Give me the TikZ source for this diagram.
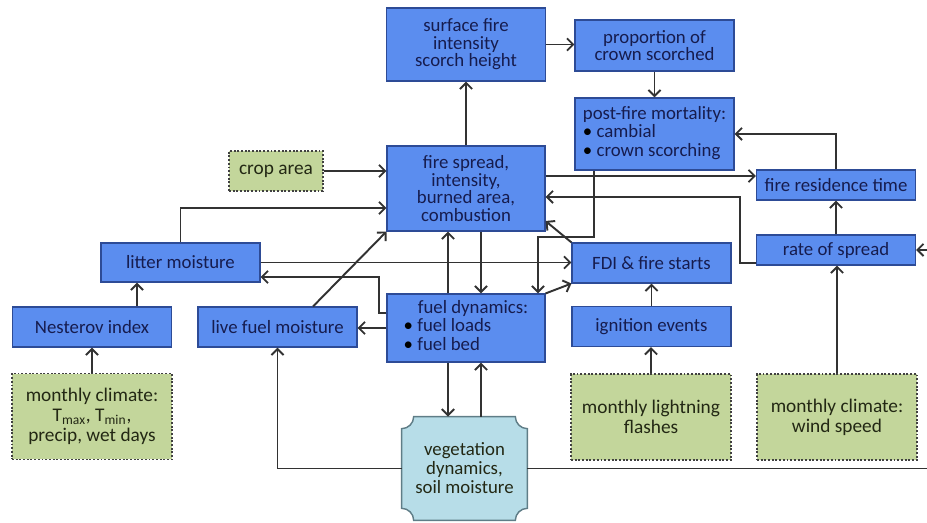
\documentclass[tikz,border=0pt]{standalone}
\usepackage{fontspec}
\setmainfont{Carlito}
\usetikzlibrary{arrows.meta,calc,backgrounds}
\definecolor{boxblue}{RGB}{91,141,239}
\definecolor{blueline}{RGB}{45,75,150}
\definecolor{navytext}{RGB}{22,28,78}
\definecolor{drivergreen}{RGB}{195,214,155}
\definecolor{drivertext}{RGB}{35,40,20}
\definecolor{vegcyan}{RGB}{183,221,232}
\definecolor{vegline}{RGB}{95,125,135}
\definecolor{linkgray}{RGB}{50,50,50}

\begin{document}
\begin{tikzpicture}[x=0.02cm, y=0.02cm, >={Straight Barb[length=3.5pt,width=7pt]}, link/.style={->, line width=1.1pt, draw=linkgray}, plain/.style={line width=1.1pt, draw=linkgray}, proc/.style={draw=blueline, line width=0.6pt, fill=boxblue, text=navytext, align=center, minimum width=3.18cm, minimum height=0.8cm, inner sep=2pt, font=\fontsize{10.7}{10}\selectfont}, driver/.style={draw=black!75, densely dotted, line width=1.1pt, fill=drivergreen, text=drivertext, align=center, minimum width=3.2cm, minimum height=1.72cm, inner sep=2pt, font=\fontsize{11}{11.5}\selectfont}, pool/.style={text=drivertext, align=center, minimum width=2.5cm, minimum height=2.06cm, inner sep=2pt, font=\fontsize{10.7}{10.8}\selectfont}]
\useasboundingbox (0,0) rectangle (927,-523);
% fire behaviour boxes
\node[proc, minimum height=1.46cm] (surf) at (466,-44.5) {surface fire\\intensity\\scorch height};
\node[proc, minimum height=1.02cm] (prop) at (654.5,-45.5) {proportion of\\crown scorched};
\node[proc, minimum height=1.44cm] (mort) at (654.5,-134) {\begin{tabular}{@{}l@{}}post-fire mortality:\\{\color{black}\textbullet}\ cambial\\{\color{black}\textbullet}\ crown scorching\end{tabular}};
\node[proc, minimum width=3.16cm, minimum height=1.7cm] (fire) at (466,-188.5) {fire spread,\\intensity,\\burned area,\\combustion};
\node[proc, minimum height=0.6cm] (res) at (836,-185) {fire residence time};
\node[proc, minimum height=0.6cm] (ros) at (836,-250) {rate of spread};
\node[proc] (fdi) at (651.5,-263) {FDI \& fire starts};
\node[proc] (ign) at (651.5,-326.5) {ignition events};
% moisture and fuel boxes
\node[proc, minimum height=0.78cm] (litter) at (180.5,-262.5) {litter moisture};
\node[proc] (nest) at (92,-327) {Nesterov index};
\node[proc] (live) at (277.5,-327) {live fuel moisture};
\node[proc, minimum width=3.16cm, minimum height=1.36cm] (fuel) at (466,-328) {\begin{tabular}{@{}l@{}}\hspace*{0.75em}fuel dynamics:\\{\color{black}\textbullet}\ fuel loads\\{\color{black}\textbullet}\ fuel bed\end{tabular}};
% drivers
\node[driver, minimum width=1.88cm, minimum height=0.8cm] (crop) at (276,-171) {crop area};
\node[driver] (climl) at (92,-416.5) {monthly climate:\\T\textsubscript{max}, T\textsubscript{min},\\precip, wet days};
\node[driver] (light) at (651,-417) {monthly lightning\\flashes};
\node[driver] (wind) at (837,-417) {monthly climate:\\wind speed};
\node[pool] (veg) at (464.5,-468.5) {vegetation\\dynamics,\\soil moisture};
\begin{scope}[on background layer]
\draw[draw=vegline, line width=0.8pt, fill=vegcyan] ($(veg.north west)+(12,0)$) -- ($(veg.north east)+(-12,0)$) arc[start angle=180, end angle=270, radius=12] -- ($(veg.south east)+(0,12)$) arc[start angle=90, end angle=180, radius=12] -- ($(veg.south west)+(12,0)$) arc[start angle=0, end angle=90, radius=12] -- ($(veg.north west)+(0,-12)$) arc[start angle=270, end angle=360, radius=12] -- cycle;
\end{scope}
\coordinate (edgeR) at (927,-250);
\coordinate (edgeB) at (927,-470);
% connectors
\draw[link] (fire) -- (surf);
\draw[link] (surf.east) -- (surf.east -| prop.west);
\draw[link] (prop) -- (mort);
\draw[link] (res.north) |- (mort.east);
\draw[link] (fire.east |- 0,-176) -- (res.west |- 0,-176);
\draw[link] (ros.west |- 0,-263) -| (740,-197) -- (fire.east |- 0,-197);
\draw[link] (edgeR) -- (ros.east);
\draw[link] (wind.north) -- (wind.north |- ros.south);
\draw[link] (ros) -- (res);
\draw[link] (ign) -- (fdi);
\draw[link] (light.north) -- (light.north |- ign.south);
\draw[link] (crop.east) -- (crop.east -| fire.west);
\draw[link] (litter.north) |- (fire.west |- 0,-208);
\draw[link] (nest.north -| 137,0) -- (litter.south -| 137,0);
\draw[link] (climl) -- (nest);
\draw[link] (litter.east) -- (litter.east -| fdi.west);
\draw[link] (fuel.west |- 0,-313) -| (379,-277) -- (litter.east |- 0,-277);
\draw[link] (fuel.west) -- (fuel.west -| live.east);
\draw[link] (live.north -| 313,0) -- (fire.south west);
\draw[link] (fuel.north -| 448,0) -- (fire.south -| 448,0);
\draw[link] (fire.south -| 481,0) -- (fuel.north -| 481,0);
\draw[link] (mort.south -| 594,0) |- (538,-237) -- (fuel.north -| 538,0);
\draw[link] (fdi.north west) -- (fire.east |- 0,-221);
\draw[link] (fuel.north east) -- (fdi.south west);
\draw[link] (fuel.south -| 448,0) -- (veg.north -| 448,0);
\draw[link] (veg.north -| 481,0) -- (fuel.south -| 481,0);
\draw[link] (veg.west) -| (live.south);
\draw[plain] (veg.east) -- (veg.east -| edgeB);
\end{tikzpicture}
\end{document}
